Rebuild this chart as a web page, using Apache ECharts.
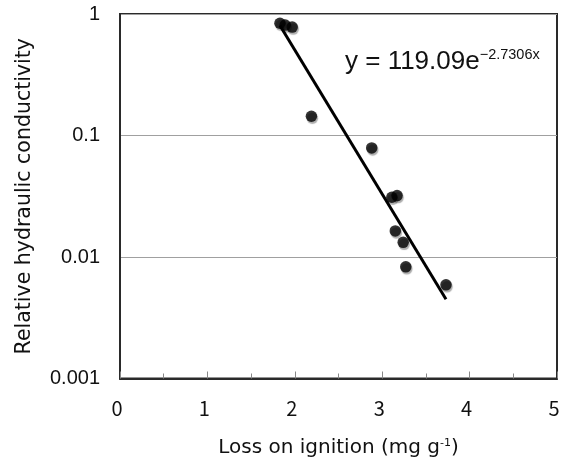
<!DOCTYPE html>
<html>
<head>
<meta charset="utf-8">
<script src="https://cdn.jsdelivr.net/npm/echarts@6/dist/echarts.min.js"></script>
<style>html,body{margin:0;padding:0;background:#fff}#c{width:563px;height:463px}</style>
</head>
<body>
<div id="c"></div>
<script>
// Data
const lossOnIgnition = [1.83, 1.89, 1.97, 2.19, 2.88, 3.11, 3.17, 3.15, 3.24, 3.27, 3.73];
const relConductivity = [0.84, 0.81, 0.78, 0.144, 0.079, 0.031, 0.032, 0.0164, 0.0132, 0.0083, 0.0059];
// Fitted trend: y = 119.09 e^(-2.7306x), drawn over the data range
const fitA = 119.09;
const fitB = -2.7306;
const fitRange = [1.83, 3.73];
const xTicks = [0, 1, 2, 3, 4, 5];
const yTicks = [0.001, 0.01, 0.1, 1];

const points = lossOnIgnition.map((x, i) => [x, relConductivity[i]]);
const fitLine = fitRange.map(x => [x, fitA * Math.exp(fitB * x)]);

const chart = echarts.init(document.getElementById('c'));
chart.setOption({
  animation: false,
  backgroundColor: '#fff',
  grid: { left: 120, right: 6, top: 14, bottom: 83, show: true, borderColor: '#2a2a2a', borderWidth: 2, backgroundColor: 'transparent' },
  xAxis: {
    type: 'value', min: 0, max: 5, interval: 1,
    name: 'Loss on ignition (mg g{s|-1})', nameLocation: 'middle', nameGap: 59,
    nameTextStyle: { fontFamily: 'DejaVu Sans', fontSize: 20, color: '#111', rich: { s: { fontSize: 11, verticalAlign: 'top', padding: [0, 0, 10, 0], fontFamily: 'DejaVu Sans', color: '#111' } } },
    axisLine: { lineStyle: { color: '#2a2a2a', width: 2 } },
    axisTick: { inside: true, length: 7, lineStyle: { color: '#888', width: 1 } },
    minorTick: { show: true, splitNumber: 2, length: 5, lineStyle: { color: '#888', width: 1 } },
    splitLine: { show: false },
    axisLabel: { margin: 20, fontSize: 20, color: '#111', fontFamily: 'Noto Sans CJK JP', padding: [0, 6, 0, 0], formatter: v => xTicks.includes(v) ? String(v) : '' }
  },
  yAxis: {
    type: 'log', logBase: 10, min: 0.001, max: 1,
    name: 'Relative hydraulic conductivity', nameLocation: 'middle', nameGap: 85,
    nameTextStyle: { fontFamily: 'DejaVu Sans', fontSize: 20.5, color: '#111' },
    axisLine: { lineStyle: { color: '#2a2a2a', width: 2 } },
    axisTick: { show: false },
    splitLine: { show: true, lineStyle: { color: '#a0a0a0', width: 1 } },
    axisLabel: { margin: 20, fontSize: 20, color: '#111', fontFamily: 'Liberation Sans',
      formatter: v => { const t = yTicks.find(k => Math.abs(k - v) / k < 1e-6); return t === undefined ? '' : String(t); } }
  },
  series: [
    {
      type: 'line', data: fitLine, symbol: 'none', silent: true,
      lineStyle: { color: '#000', width: 3 }, z: 2
    },
    {
      type: 'scatter', data: points, symbol: 'circle', symbolSize: 11.5,
      itemStyle: { color: '#000', shadowColor: 'rgba(0,0,0,0.4)', shadowBlur: 1, shadowOffsetX: 1, shadowOffsetY: 2 }, z: 3
    }
  ],
  graphic: [{
    type: 'text', left: 345, top: 47,
    style: {
      text: 'y = 119.09e{s|−2.7306x}',
      fontFamily: 'Liberation Sans', fontSize: 26, fill: '#111',
      rich: { s: { fontSize: 14.5, fontFamily: 'Liberation Sans', fill: '#111', verticalAlign: 'top', padding: [0, 0, 14, 0] } }
    }
  }]
});
</script>
</body>
</html>
